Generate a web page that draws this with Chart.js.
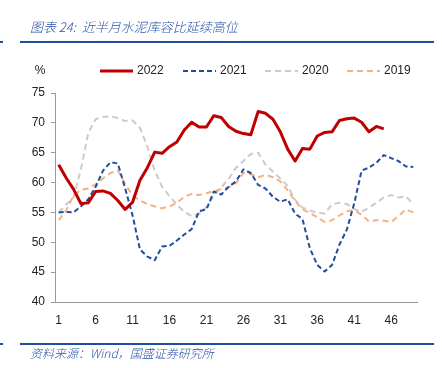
<!DOCTYPE html>
<html lang="zh">
<head>
<meta charset="UTF-8">
<title>水泥库容比</title>
<style>
  html, body { margin: 0; padding: 0; background: #fff; }
  #wrap { width: 442px; height: 368px; position: relative; }
</style>
</head>
<body>
<div id="wrap"><canvas id="myChart" width="442" height="368"></canvas></div>

<script src="https://cdn.jsdelivr.net/npm/chart.js"></script>
<script>
    // weeks 1..49
    const weeks = [];
    for (let i = 1; i <= 49; i++) weeks.push(String(i));

    const seriesNames = ['2022', '2021', '2020', '2019'];

    const y2022 = [63.0, 60.8, 58.9, 56.5, 56.6, 58.5, 58.6, 58.2, 57.0, 55.5,
                   56.7, 60.4, 62.5, 65.1, 64.9, 66.0, 66.8, 68.8, 70.1, 69.3,
                   69.3, 71.2, 70.9, 69.4, 68.6, 68.2, 68.0, 71.9, 71.6, 70.6,
                   68.5, 65.6, 63.6, 65.7, 65.6, 67.8, 68.4, 68.5, 70.4, 70.7,
                   70.8, 70.1, 68.5, 69.4, 69.0];

    const y2021 = [55.0, 55.1, 55.0, 56.0, 57.2, 59.3, 62.0, 63.4, 63.2, 59.0,
                   54.5, 48.8, 47.6, 47.0, 49.3, 49.4, 50.3, 51.3, 52.2, 55.2,
                   55.5, 58.5, 58.0, 59.3, 60.2, 62.2, 61.6, 59.6, 59.0, 57.6,
                   56.8, 57.2, 54.8, 53.9, 49.0, 46.2, 45.1, 46.2, 49.6, 52.1,
                   56.5, 62.0, 62.5, 63.3, 64.6, 64.1, 63.6, 62.7, 62.6];

    const y2020 = [55.0, 56.3, 57.5, 62.2, 68.3, 70.6, 71.0, 71.1, 70.8, 70.3,
                   70.4, 69.2, 66.0, 62.0, 59.3, 57.7, 56.3, 55.1, 54.4, 54.8,
                   55.9, 57.8, 59.2, 60.6, 62.5, 63.6, 64.8, 65.0, 63.0, 61.8,
                   60.7, 59.4, 57.1, 55.8, 55.3, 55.0, 54.8, 56.4, 56.6, 56.4,
                   55.6, 55.1, 55.8, 56.6, 57.5, 57.9, 57.5, 57.7, 56.4];

    const y2019 = [53.7, 55.3, 57.8, 58.8, 59.0, 59.7, 60.7, 61.6, 62.0, 59.8,
                   57.8, 57.0, 56.4, 56.0, 55.7, 56.0, 56.6, 57.6, 58.1, 57.9,
                   58.2, 58.6, 58.9, 59.2, 59.9, 61.6, 61.4, 60.9, 61.3, 60.9,
                   60.2, 58.7, 56.9, 55.5, 54.9, 54.2, 53.4, 53.7, 54.5, 55.2,
                   55.4, 54.6, 53.5, 53.7, 53.6, 53.4, 54.4, 55.5, 55.0];

    const yTicks = [40, 45, 50, 55, 60, 65, 70, 75];

    const BLUE = '#1f4e9e';
    const FONT = '"Liberation Sans", Arial, sans-serif';
    const CJK = '"Noto Sans CJK SC", sans-serif';

    // title, rules, legend and source text drawn around the plot
    const frame = {
        id: 'frame',
        afterDraw(chart) {
            const c = chart.ctx;
            c.save();
            c.fillStyle = '#2a55a5';
            c.font = 'italic 300 13px ' + CJK;
            c.textBaseline = 'middle';
            c.fillText('图表 24:  近半月水泥库容比延续高位', 30, 27);

            c.fillStyle = BLUE;
            c.fillRect(20, 41, 414, 2);
            c.fillRect(0, 41, 3, 2);
            c.fillRect(20, 343, 414, 2);
            c.fillRect(0, 343, 3, 2);

            c.fillStyle = '#2a55a5';
            c.font = 'italic 300 12px ' + CJK;
            c.fillText('资料来源：Wind，国盛证券研究所', 30, 353);

            // "%" unit label
            c.fillStyle = '#222';
            c.font = '12px ' + FONT;
            c.textAlign = 'center';
            c.fillText('%', 40, 71);

            // legend
            c.textAlign = 'left';
            const xs = [100, 183, 265, 347];
            chart.data.datasets.forEach((ds, i) => {
                c.strokeStyle = ds.borderColor;
                c.lineWidth = ds.borderWidth;
                c.setLineDash(ds.borderDash || []);
                c.beginPath();
                c.moveTo(xs[i], 71);
                c.lineTo(xs[i] + 33, 71);
                c.stroke();
                c.setLineDash([]);
                c.fillStyle = '#222';
                c.fillText(ds.label, xs[i] + 37, 71);
            });
            c.restore();
        }
    };

    const ctx = document.getElementById('myChart').getContext('2d');

    const chart = new Chart(ctx, {
        type: 'line',
        data: {
            labels: weeks,
            datasets: [{
                label: seriesNames[0],
                data: y2022,
                borderColor: '#c00000',
                borderWidth: 3,
                order: 0
            }, {
                label: seriesNames[1],
                data: y2021,
                borderColor: BLUE,
                borderWidth: 2,
                borderDash: [5, 3],
                order: 1
            }, {
                label: seriesNames[2],
                data: y2020,
                borderColor: '#cbcbcb',
                borderWidth: 2,
                borderDash: [6, 4],
                order: 3
            }, {
                label: seriesNames[3],
                data: y2019,
                borderColor: '#f4b183',
                borderWidth: 2,
                borderDash: [6, 4],
                order: 2
            }]
        },
        options: {
            responsive: false,
            animation: false,
            layout: { padding: { top: 93, right: 25, bottom: 40, left: 0 } },
            elements: {
                point: { radius: 0 },
                line: { tension: 0, borderCapStyle: 'butt', borderJoinStyle: 'round' }
            },
            plugins: {
                legend: { display: false },
                tooltip: { enabled: false }
            },
            scales: {
                x: {
                    offset: true,
                    grid: { display: false },
                    border: { display: true, color: '#9a9a9a', width: 1 },
                    ticks: {
                        autoSkip: false,
                        maxRotation: 0,
                        color: '#222',
                        font: { family: FONT, size: 12 },
                        padding: 3,
                        callback: function(v, i) { return i % 5 === 0 ? weeks[i] : ''; }
                    },
                    afterFit: function(s) { s.height = 26; }
                },
                y: {
                    min: 40,
                    max: 75,
                    afterBuildTicks: function(s) { s.ticks = yTicks.map(v => ({ value: v })); },
                    grid: { drawOnChartArea: false, drawTicks: true, tickLength: 4, color: '#9a9a9a' },
                    border: { display: true, color: '#9a9a9a', width: 1 },
                    ticks: {
                        color: '#222',
                        font: { family: FONT, size: 12 },
                        padding: 6
                    },
                    afterFit: function(s) { s.width = 55; }
                }
            }
        },
        plugins: [frame]
    });
</script>
</body>
</html>
